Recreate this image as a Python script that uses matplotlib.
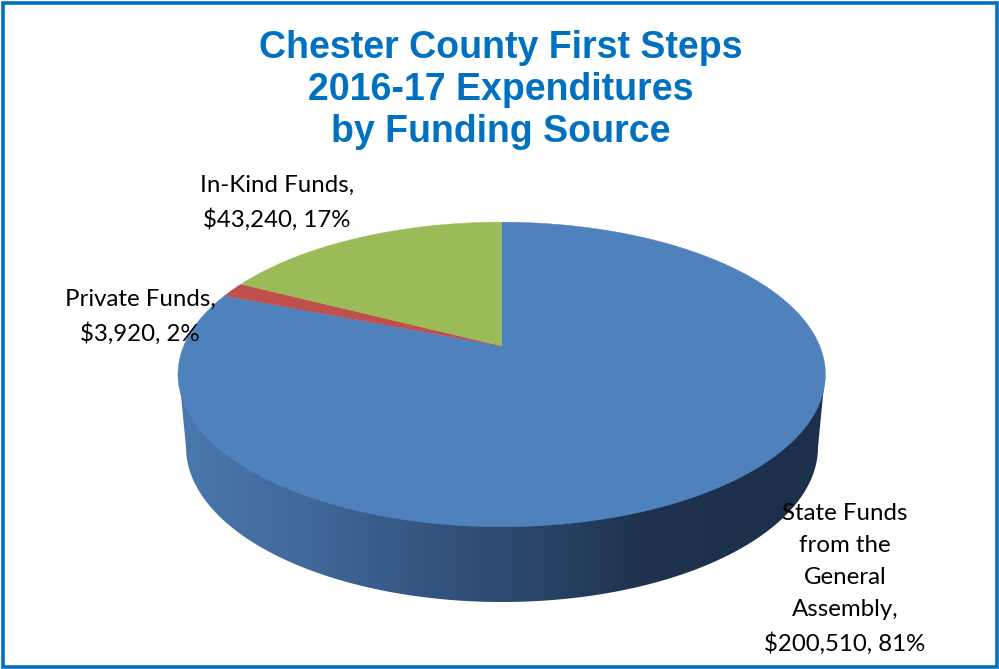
import numpy as np
import matplotlib
matplotlib.use("Agg")
import matplotlib.pyplot as plt
from matplotlib.colors import LinearSegmentedColormap
from matplotlib.patches import Polygon, Rectangle

# Chester County funding data
sources = ["State Funds\nfrom the\nGeneral\nAssembly,", "Private Funds,", "In-Kind Funds,"]
amounts = [200510, 3920, 43240]
percents = [81, 2, 17]
colors = ["#4F81BD", "#C0504D", "#9BBB59"]
title = "Chester County First Steps\n2016-17 Expenditures\nby Funding Source"

plt.rcParams["font.family"] = ["Lato", "DejaVu Sans"]

fig = plt.figure(figsize=(9.99, 6.69), dpi=100)
ax = fig.add_axes([0, 0, 1, 1])
ax.set_xlim(0, 999)
ax.set_ylim(669, 0)
ax.axis("off")

# Tilted pie: perspective projection of the unit circle, angle clockwise from top
cx, cy = 501.7, 346
a, b, k = 318, 147, 0.187


def project(theta):
    u, v = np.sin(theta), np.cos(theta)
    d = 1 + k * v
    return np.column_stack((cx + a * u / d, cy - b * v / d))


# Side wall, a gradient clipped to the outline of the lower rim
t = np.linspace(0, np.pi, 300)
lower = np.column_stack((502 + 316 * np.cos(t), 447 + 155 * np.sin(t)))
wall = np.vstack(([[825, 375]], lower, [[179, 375]]))
clip = Polygon(wall, closed=True, transform=ax.transData, facecolor="none", edgecolor="none")
ax.add_patch(clip)
cmap = LinearSegmentedColormap.from_list(
    "wall",
    [(0.0, "#4A78AE"), (0.2, "#40689A"), (0.5, "#2D4A70"), (0.72, "#1F334F"), (1.0, "#1C304B")],
)
img = ax.imshow(
    np.linspace(0, 1, 256).reshape(1, -1),
    cmap=cmap,
    extent=(178, 826, 610, 370),
    aspect="auto",
    zorder=1,
)
img.set_clip_path(clip)
ax.set_xlim(0, 999)
ax.set_ylim(669, 0)

# Top face, slices run from the data
edges = np.concatenate(([0], np.cumsum(amounts))) / np.sum(amounts) * 2 * np.pi
for start, stop, color in zip(edges[:-1], edges[1:], colors):
    arc = project(np.linspace(start, stop, 300))
    ax.add_patch(Polygon(np.vstack(([[cx, cy]], arc)), closed=True, facecolor=color,
                         edgecolor=color, linewidth=0.3, zorder=2))

# Frame
ax.add_patch(Rectangle((2.5, 2.5), 994, 664, facecolor="none", edgecolor="#0070C0",
                       linewidth=2.6, zorder=5))

ax.text(501, 90, title, color="#0070C0", fontsize=27, fontweight="bold",
        family="Liberation Sans", ha="center", va="center", linespacing=1.22, zorder=4)

label_pos = [(845, 579), (140, 317), (277, 203)]
for name, amt, pct, pos in zip(sources, amounts, percents, label_pos):
    ax.text(pos[0], pos[1], f"{name}\n${amt:,}, {pct}%", fontsize=17.3, color="black",
            ha="center", va="center", linespacing=1.65, zorder=4)

fig.savefig("out.png", dpi=100)
